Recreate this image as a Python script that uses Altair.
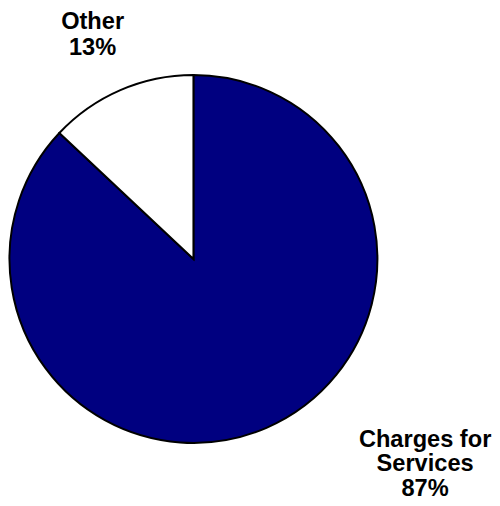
import altair as alt
import pandas as pd

categories = ["Charges for Services", "Other"]
label_text = ["Charges for\nServices", "Other"]
values = [87, 13]
colors = ["#000080", "#FFFFFF"]

df = pd.DataFrame({
    "category": categories,
    "label": label_text,
    "value": values,
    "order": list(range(len(categories))),
})

pie = alt.Chart(df).mark_arc(
    radius=187, x=188.5, y=251, stroke="black", strokeWidth=2
).encode(
    theta=alt.Theta("value:Q", stack=True),
    order=alt.Order("order:Q"),
    color=alt.Color("category:N",
                    scale=alt.Scale(domain=categories, range=colors),
                    legend=None),
)

text_base = alt.Chart(df).transform_calculate(
    txt="datum.label + '\\n' + datum.value + '%'"
)

lbl_other = text_base.transform_filter(
    alt.datum.category == "Other"
).mark_text(
    font="Liberation Sans", fontSize=24, fontWeight="bold", align="center",
    baseline="alphabetic", lineBreak="\n", lineHeight=27, color="black"
).encode(text="txt:N", x=alt.value(86), y=alt.value(17))

lbl_main = text_base.transform_filter(
    alt.datum.category == "Charges for Services"
).mark_text(
    font="Liberation Sans", fontSize=24, fontWeight="bold", align="center",
    baseline="alphabetic", lineBreak="\n", lineHeight=25, color="black"
).encode(text="txt:N", x=alt.value(424), y=alt.value(442))

chart = alt.layer(pie, lbl_other, lbl_main).properties(
    width=492, height=498, padding=0,
    autosize=alt.AutoSizeParams(type="none"),
).configure_view(stroke=None)

chart.save("out.html", embed_options={"renderer": "svg", "actions": False})
